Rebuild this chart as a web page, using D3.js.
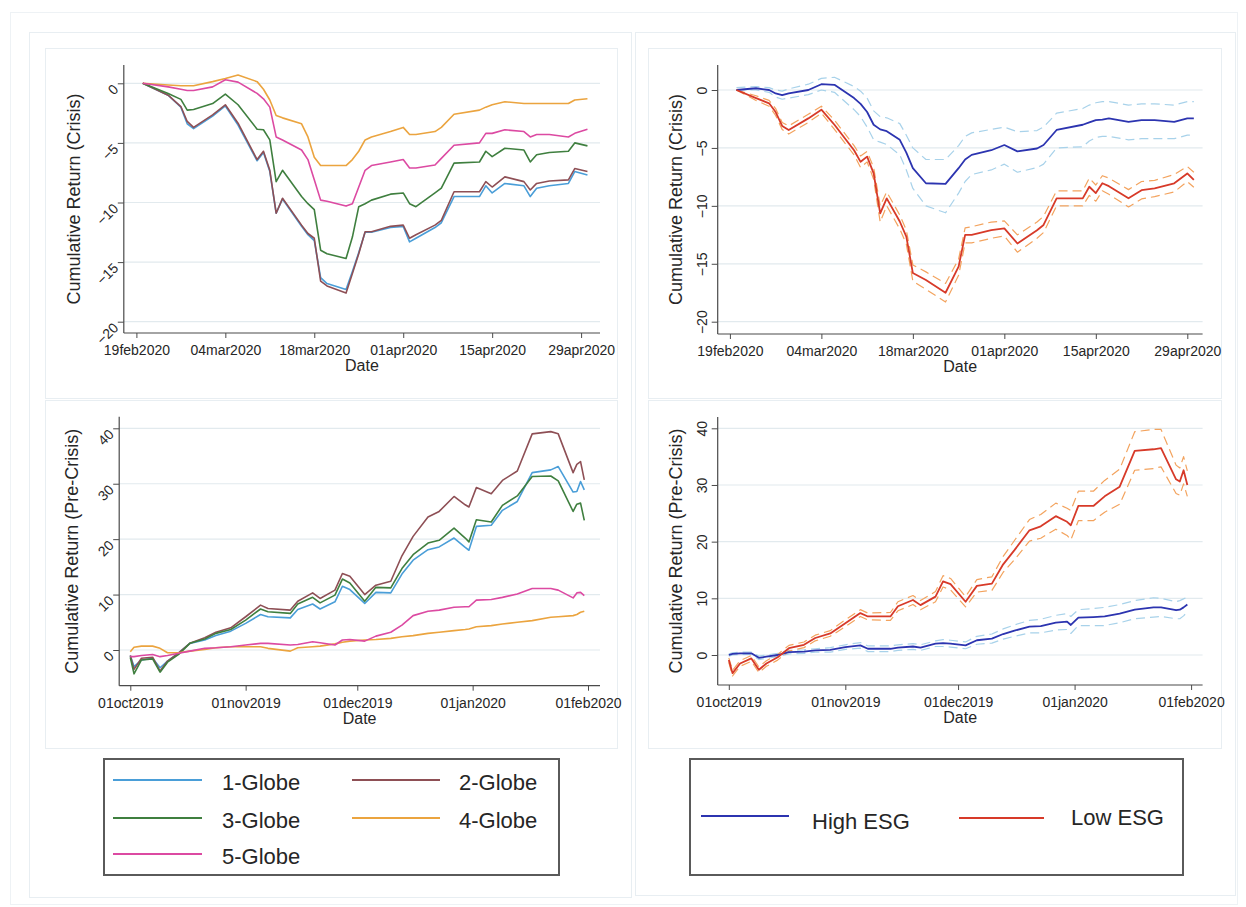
<!DOCTYPE html>
<html>
<head>
<meta charset="utf-8">
<script src="https://cdn.jsdelivr.net/npm/d3@7"></script>
<style>
  body { margin: 0; background: #ffffff; }
  svg { display: block; }
  text { font-family: "Liberation Sans", Arial, Helvetica, sans-serif; fill: #262626; }
</style>
</head>
<body>
<svg id="chart" width="1246" height="907"></svg>
<script>
// ---------- Crisis window, portfolios by Globe rating ----------
const crisisGlobeDates = ["2020-02-20","2020-02-24","2020-02-26","2020-02-27","2020-02-28","2020-03-02","2020-03-04","2020-03-06","2020-03-09","2020-03-10","2020-03-11","2020-03-12","2020-03-13","2020-03-16","2020-03-17","2020-03-18","2020-03-19","2020-03-20","2020-03-23","2020-03-24","2020-03-25","2020-03-26","2020-03-27","2020-03-30","2020-04-01","2020-04-02","2020-04-03","2020-04-06","2020-04-07","2020-04-09","2020-04-13","2020-04-14","2020-04-15","2020-04-17","2020-04-20","2020-04-21","2020-04-22","2020-04-24","2020-04-27","2020-04-28","2020-04-30"];
const globe1Crisis = [0,-1.0,-2.0,-3.4,-3.8,-2.75,-1.9,-3.5,-6.5,-5.8,-7.4,-10.9,-9.7,-12.0,-12.7,-13.2,-16.3,-16.8,-17.3,-15.8,-14.2,-12.5,-12.5,-12.1,-12.0,-13.3,-13.0,-12.1,-11.7,-9.5,-9.5,-8.6,-9.2,-8.4,-8.6,-9.5,-8.8,-8.6,-8.4,-7.4,-7.7];
const globe2Crisis = [0,-1.0,-1.95,-3.2,-3.7,-2.65,-1.8,-3.35,-6.4,-5.7,-7.3,-10.9,-9.65,-11.9,-12.6,-13.0,-16.6,-17.0,-17.6,-15.95,-14.3,-12.45,-12.45,-12.0,-11.9,-13.0,-12.7,-11.9,-11.5,-9.1,-9.1,-8.25,-8.7,-7.85,-8.25,-8.95,-8.4,-8.2,-8.1,-7.15,-7.4];
const globe3Crisis = [0,-0.85,-1.35,-2.25,-2.2,-1.7,-0.9,-1.8,-3.85,-3.9,-4.75,-8.25,-7.3,-9.5,-10.1,-10.6,-14.0,-14.3,-14.7,-12.9,-10.35,-10.1,-9.8,-9.3,-9.2,-10.1,-10.35,-9.2,-8.8,-6.7,-6.6,-5.7,-6.15,-5.45,-5.6,-6.6,-6.0,-5.8,-5.7,-5.0,-5.25];
const globe4Crisis = [0,-0.14,-0.2,-0.2,-0.2,0.14,0.4,0.7,0.14,-0.5,-1.4,-2.7,-2.9,-3.4,-4.5,-6.2,-6.9,-6.9,-6.9,-6.4,-5.7,-4.75,-4.5,-4.05,-3.7,-4.3,-4.3,-4.05,-3.7,-2.6,-2.25,-2.0,-1.8,-1.55,-1.7,-1.7,-1.7,-1.7,-1.7,-1.4,-1.3];
const globe5Crisis = [0,-0.3,-0.5,-0.6,-0.6,-0.3,0.3,0.1,-0.85,-1.3,-2.0,-4.5,-4.75,-5.6,-6.4,-8.1,-9.8,-9.9,-10.3,-10.1,-8.7,-7.3,-6.9,-6.6,-6.4,-7.1,-7.1,-6.85,-6.3,-5.2,-5.0,-4.2,-4.2,-3.9,-4.05,-4.5,-4.3,-4.3,-4.5,-4.2,-3.85];

// ---------- Crisis window, High vs Low ESG with confidence bounds ----------
const crisisEsgDates = ["2020-02-20","2020-02-23","2020-02-25","2020-02-26","2020-02-27","2020-02-28","2020-03-02","2020-03-04","2020-03-06","2020-03-09","2020-03-10","2020-03-11","2020-03-12","2020-03-13","2020-03-14","2020-03-16","2020-03-17","2020-03-18","2020-03-20","2020-03-23","2020-03-25","2020-03-26","2020-03-27","2020-03-30","2020-04-01","2020-04-03","2020-04-06","2020-04-07","2020-04-09","2020-04-13","2020-04-14","2020-04-15","2020-04-16","2020-04-17","2020-04-20","2020-04-22","2020-04-24","2020-04-27","2020-04-29","2020-04-30"];
const highEsgCrisis = [0,0.15,0.0,-0.3,-0.45,-0.3,0.0,0.5,0.45,-0.7,-1.2,-1.9,-3.0,-3.4,-3.55,-4.3,-5.4,-6.75,-8.05,-8.1,-6.75,-6.0,-5.6,-5.2,-4.75,-5.3,-5.05,-4.75,-3.45,-3.0,-2.8,-2.6,-2.55,-2.45,-2.75,-2.6,-2.6,-2.75,-2.45,-2.45];
const highEsgCrisisUpper = [0.2,0.3,0.2,0.0,-0.1,0.1,0.5,1.0,1.1,0.3,-0.1,-0.7,-1.8,-2.3,-2.4,-2.9,-3.9,-5.0,-6.0,-6.0,-4.8,-4.0,-3.7,-3.4,-3.2,-3.6,-3.5,-3.2,-2.0,-1.6,-1.3,-1.1,-1.0,-1.0,-1.3,-1.2,-1.2,-1.3,-1.0,-1.0];
const highEsgCrisisLower = [0.0,0.0,-0.2,-0.6,-0.8,-0.7,-0.4,0.0,-0.2,-1.7,-2.3,-3.2,-4.3,-4.5,-4.7,-5.6,-6.9,-8.5,-10.0,-10.6,-8.9,-7.9,-7.3,-6.9,-6.4,-7.1,-6.7,-6.4,-5.0,-4.9,-4.4,-4.1,-4.0,-4.0,-4.3,-4.2,-4.2,-4.2,-3.9,-3.9];
const lowEsgCrisis = [0,-0.7,-1.15,-1.9,-3.1,-3.45,-2.45,-1.7,-3.0,-5.2,-6.2,-5.75,-7.2,-10.65,-9.35,-11.35,-12.65,-15.8,-16.4,-17.5,-15.25,-12.5,-12.5,-12.1,-11.95,-13.25,-12.1,-11.65,-9.35,-9.35,-8.35,-8.9,-8.05,-8.3,-9.35,-8.65,-8.5,-8.05,-7.2,-7.75];
const lowEsgCrisisUpper = [0,-0.5,-0.9,-1.6,-2.8,-3.1,-2.1,-1.4,-2.6,-4.8,-5.7,-5.3,-6.7,-10.0,-8.8,-10.8,-12.1,-15.1,-15.7,-16.7,-14.6,-11.9,-11.8,-11.4,-11.3,-12.5,-11.4,-10.9,-8.7,-8.7,-7.6,-8.2,-7.4,-7.6,-8.6,-7.9,-7.8,-7.3,-6.6,-7.1];
const lowEsgCrisisLower = [0,-0.9,-1.4,-2.2,-3.4,-3.8,-2.8,-2.0,-3.4,-5.6,-6.7,-6.2,-7.7,-11.4,-10.0,-12.0,-13.3,-16.5,-17.2,-18.3,-16.0,-13.2,-13.2,-12.8,-12.6,-14.0,-12.8,-12.3,-10.0,-10.0,-9.1,-9.6,-8.7,-9.0,-10.1,-9.4,-9.2,-8.8,-7.9,-8.4];

// ---------- Pre-crisis window (shared dates for both lower panels) ----------
const preDates = ["2019-10-01","2019-10-02","2019-10-04","2019-10-07","2019-10-09","2019-10-11","2019-10-14","2019-10-17","2019-10-21","2019-10-24","2019-10-28","2019-11-01","2019-11-05","2019-11-07","2019-11-13","2019-11-15","2019-11-19","2019-11-21","2019-11-25","2019-11-27","2019-11-29","2019-12-03","2019-12-06","2019-12-10","2019-12-13","2019-12-16","2019-12-20","2019-12-23","2019-12-27","2019-12-30","2019-12-31","2020-01-02","2020-01-06","2020-01-09","2020-01-13","2020-01-17","2020-01-22","2020-01-24","2020-01-28","2020-01-29","2020-01-30","2020-01-31"];
const globe1Pre = [-1.0,-3.0,-1.8,-1.5,-3.2,-2.0,-0.5,1.2,1.8,2.6,3.4,4.8,6.4,6.0,5.8,7.3,8.3,7.4,8.7,11.5,10.9,8.4,10.4,10.3,13.7,16.2,18.1,18.6,20.2,18.5,18.0,22.3,22.5,25.2,26.8,32.0,32.5,33.1,28.5,28.6,30.4,28.9];
const globe2Pre = [-1.0,-3.5,-1.5,-1.3,-3.8,-2.0,-0.5,1.2,2.2,3.2,4.0,6.0,8.1,7.5,7.2,8.8,10.3,9.3,10.8,13.8,13.3,10.0,11.7,12.4,17.0,20.5,24.0,25.0,27.7,26.2,25.8,29.3,28.2,30.6,32.3,39.0,39.4,39.0,32.0,33.5,34.0,30.7];
const globe3Pre = [-1.3,-4.3,-1.8,-1.6,-4.0,-2.2,-0.8,1.2,2.0,3.0,3.7,5.4,7.4,6.9,6.6,8.3,9.5,8.5,9.9,12.8,12.1,8.8,11.3,11.2,14.7,17.2,19.3,19.8,22.0,20.2,19.5,23.5,23.1,26.1,27.8,31.3,31.4,30.5,25.0,26.3,26.5,23.4];
const globe4Pre = [-0.3,0.5,0.7,0.7,0.3,-0.5,-0.5,-0.2,0.1,0.4,0.6,0.6,0.6,0.3,-0.2,0.4,0.6,0.7,1.1,1.4,1.6,1.8,1.9,2.1,2.4,2.6,3.0,3.2,3.5,3.7,3.8,4.2,4.4,4.7,5.0,5.3,5.9,6.0,6.2,6.4,6.8,7.0];
const globe5Pre = [-1.2,-1.2,-1.0,-0.8,-1.2,-1.0,-0.6,-0.2,0.3,0.4,0.6,0.9,1.2,1.2,0.9,1.0,1.5,1.3,0.9,1.8,1.9,1.6,2.5,3.2,4.5,6.2,7.0,7.2,7.7,7.8,7.8,9.0,9.1,9.5,10.1,11.1,11.1,10.8,9.4,10.3,10.4,9.8];
const highEsgPre = [0.0,0.2,0.3,0.3,-0.5,-0.3,0.0,0.5,0.6,0.8,0.9,1.4,1.7,1.1,1.1,1.3,1.5,1.3,2.0,2.1,2.0,1.7,2.6,2.9,3.7,4.3,5.0,5.1,5.7,5.9,5.3,6.6,6.7,6.8,7.3,8.0,8.4,8.4,7.9,8.0,8.4,8.9];
const highEsgPreUpper = [0.2,0.4,0.5,0.5,-0.2,0.0,0.3,0.8,0.9,1.1,1.3,1.8,2.2,1.6,1.6,1.8,2.0,1.8,2.5,2.7,2.6,2.3,3.3,3.7,4.6,5.3,6.1,6.3,7.0,7.3,6.8,8.0,8.2,8.4,8.9,9.6,10.1,10.0,9.4,9.6,9.9,10.2];
const highEsgPreLower = [-0.2,0.0,0.1,0.1,-0.8,-0.6,-0.3,0.2,0.3,0.5,0.5,1.0,1.2,0.6,0.6,0.8,1.0,0.8,1.5,1.5,1.4,1.1,1.9,2.1,2.8,3.3,3.9,3.9,4.4,4.5,3.8,5.2,5.2,5.2,5.7,6.4,6.7,6.8,6.4,6.4,6.9,7.6];
const lowEsgPre = [-0.9,-3.2,-1.5,-0.6,-2.6,-1.5,-0.4,1.2,1.8,3.0,3.8,5.6,7.4,6.8,6.8,8.6,9.7,8.8,10.3,13.0,12.5,9.4,12.2,12.6,16.0,18.5,22.0,22.7,24.5,23.5,22.9,26.3,26.3,28.0,29.7,36.0,36.3,36.5,31.0,30.6,32.6,30.0];
const lowEsgPreUpper = [-0.5,-2.7,-1.0,-0.1,-2.1,-1.0,0.1,1.7,2.3,3.5,4.3,6.2,8.0,7.4,7.5,9.4,10.5,9.6,11.2,14.0,13.5,10.3,13.3,13.8,17.4,20.2,23.9,24.8,26.8,25.9,25.5,28.9,28.9,30.8,32.8,39.4,39.8,39.8,33.5,33.0,35.0,32.5];
const lowEsgPreLower = [-1.3,-3.7,-2.0,-1.1,-3.1,-2.0,-0.9,0.7,1.3,2.5,3.3,5.0,6.8,6.2,6.1,7.8,8.9,8.0,9.4,12.0,11.5,8.5,11.1,11.4,14.6,16.8,20.1,20.6,22.2,21.1,20.3,23.7,23.7,25.2,26.6,32.6,32.9,33.2,28.5,28.2,30.2,28.0];

// ---------- Axis ticks and labels ----------
const crisisTicks = ["2020-02-19","2020-03-04","2020-03-18","2020-04-01","2020-04-15","2020-04-29"];
const preTicks = ["2019-10-01","2019-11-01","2019-12-01","2020-01-01","2020-02-01"];
const crisisYTicks = [0, -5, -10, -15, -20];
const preYTicks = [0, 10, 20, 30, 40];
const globeNames = ["1-Globe", "2-Globe", "3-Globe", "4-Globe", "5-Globe"];
const esgNames = ["High ESG", "Low ESG"];

// ---------- Drawing ----------
const svg = d3.select("#chart");
const parse = d3.timeParse("%Y-%m-%d");
const fmtTick = d => d3.timeFormat("%d%b%Y")(d).toLowerCase();

const C = {
  g1: "#4a9ed8", g2: "#8e4f55", g3: "#3f7f3f", g4: "#eba43f", g5: "#dc4aa2",
  high: "#2c34b0", low: "#d73a29", highCI: "#a8d2ea", lowCI: "#f3a35e",
  frame: "#e8eef2", grid: "#e2eaee", axis: "#4a4a4a"
};

// outer frames
function box(x0, y0, x1, y1, stroke, sw) {
  svg.append("rect").attr("x", x0).attr("y", y0).attr("width", x1 - x0).attr("height", y1 - y0)
    .attr("fill", "none").attr("stroke", stroke).attr("stroke-width", sw || 1);
}
box(10.5, 12.5, 1237.5, 904.5, "#eef2f5");
box(29.5, 32.5, 631.5, 897.5, C.frame);
box(635.5, 32.5, 1235.5, 895.5, C.frame);
box(45.5, 48.5, 617.5, 398.5, C.frame);
box(648.5, 48.5, 1221.5, 398.5, C.frame);
box(45.5, 400.5, 617.5, 748.5, C.frame);
box(648.5, 400.5, 1221.5, 748.5, C.frame);

function panel(p) {
  const tickDates = p.xTicks.map(parse);
  const x = d3.scaleTime().domain([tickDates[0], tickDates[tickDates.length - 1]]).range([p.xt0, p.xt1]);
  const y = d3.scaleLinear().domain([p.yv0, p.yv1]).range([p.yp0, p.yp1]);
  const g = svg.append("g");

  g.selectAll("line.grid").data(p.yTicks).join("line")
    .attr("class", "grid")
    .attr("x1", p.ax).attr("x2", p.right)
    .attr("y1", d => y(d)).attr("y2", d => y(d))
    .attr("stroke", C.grid).attr("stroke-width", 1.2);

  const dates = p.dates.map(parse);
  p.series.forEach(s => {
    const line = d3.line().x((d, i) => x(dates[i])).y(d => y(d));
    g.append("path").datum(s.values)
      .attr("d", line)
      .attr("fill", "none")
      .attr("stroke", s.color)
      .attr("stroke-width", s.width || 1.6)
      .attr("stroke-dasharray", s.dash || null)
      .attr("stroke-linejoin", "round");
  });

  // x axis
  const xa = d3.axisBottom(x).tickValues(tickDates).tickFormat(fmtTick).tickSize(5).tickPadding(7);
  const gx = g.append("g").attr("transform", `translate(0,${p.ay})`).call(xa);
  gx.select(".domain").remove();
  gx.selectAll(".tick line").attr("stroke", C.axis);
  gx.selectAll(".tick text").attr("font-size", 14).attr("fill", "#2a2a2a")
    .style("font-family", '"Liberation Sans", Arial, sans-serif');
  g.append("line").attr("x1", p.ax).attr("x2", p.right).attr("y1", p.ay).attr("y2", p.ay)
    .attr("stroke", C.axis).attr("stroke-width", 1.2);

  // y axis
  const ya = d3.axisLeft(y).tickValues(p.yTicks).tickFormat(d3.format("d")).tickSize(6);
  const gy = g.append("g").attr("transform", `translate(${p.ax},0)`).call(ya);
  gy.select(".domain").remove();
  gy.selectAll(".tick line").attr("stroke", C.axis);
  const yt = gy.selectAll(".tick text").attr("font-size", 14).attr("fill", "#2a2a2a")
    .style("font-family", '"Liberation Sans", Arial, sans-serif')
    .attr("x", 0).attr("dy", "0.35em");
  if (p.yLabelAngle === -90) {
    yt.attr("text-anchor", "middle").attr("dy", 0)
      .attr("transform", "translate(-11,0) rotate(-90)");
  } else {
    yt.attr("text-anchor", "end")
      .attr("transform", "translate(-8,3) rotate(-45)");
  }
  g.append("line").attr("x1", p.ax).attr("x2", p.ax).attr("y1", p.top).attr("y2", p.ay)
    .attr("stroke", C.axis).attr("stroke-width", 1.2);

  // titles
  g.append("text").attr("transform", `translate(${p.titleX},${(p.top + p.ay) / 2}) rotate(-90)`)
    .attr("text-anchor", "middle").attr("dy", "0.35em").attr("font-size", 18).text(p.yTitle);
  g.append("text").attr("x", (p.ax + p.right) / 2).attr("y", p.ay + 38)
    .attr("text-anchor", "middle").attr("font-size", 16).text("Date");
}

const globeCrisisSeries = [
  { values: globe1Crisis, color: C.g1 },
  { values: globe2Crisis, color: C.g2 },
  { values: globe3Crisis, color: C.g3 },
  { values: globe4Crisis, color: C.g4 },
  { values: globe5Crisis, color: C.g5 }
];
const globePreSeries = [
  { values: globe1Pre, color: C.g1 },
  { values: globe2Pre, color: C.g2 },
  { values: globe3Pre, color: C.g3 },
  { values: globe4Pre, color: C.g4 },
  { values: globe5Pre, color: C.g5 }
];
const ciDash = "9,5";
const esgCrisisSeries = [
  { values: highEsgCrisisUpper, color: C.highCI, dash: ciDash, width: 1.2 },
  { values: highEsgCrisisLower, color: C.highCI, dash: ciDash, width: 1.2 },
  { values: lowEsgCrisisUpper, color: C.lowCI, dash: ciDash, width: 1.2 },
  { values: lowEsgCrisisLower, color: C.lowCI, dash: ciDash, width: 1.2 },
  { values: highEsgCrisis, color: C.high, width: 1.8 },
  { values: lowEsgCrisis, color: C.low, width: 1.8 }
];
const esgPreSeries = [
  { values: highEsgPreUpper, color: C.highCI, dash: ciDash, width: 1.2 },
  { values: highEsgPreLower, color: C.highCI, dash: ciDash, width: 1.2 },
  { values: lowEsgPreUpper, color: C.lowCI, dash: ciDash, width: 1.2 },
  { values: lowEsgPreLower, color: C.lowCI, dash: ciDash, width: 1.2 },
  { values: highEsgPre, color: C.high, width: 1.8 },
  { values: lowEsgPre, color: C.low, width: 1.8 }
];

// top-left: crisis, Globe ratings
panel({ dates: crisisGlobeDates, series: globeCrisisSeries, xTicks: crisisTicks, yTicks: crisisYTicks,
  xt0: 136.4, xt1: 581.1, yv0: 0, yv1: -20, yp0: 83.3, yp1: 321.7,
  ax: 123.8, ay: 333, right: 600, top: 65, titleX: 74, yLabelAngle: -45,
  yTitle: "Cumulative Return (Crisis)" });
// top-right: crisis, ESG
panel({ dates: crisisEsgDates, series: esgCrisisSeries, xTicks: crisisTicks, yTicks: crisisYTicks,
  xt0: 729.9, xt1: 1187.3, yv0: 0, yv1: -20, yp0: 90, yp1: 321.7,
  ax: 717.7, ay: 334, right: 1202.6, top: 65, titleX: 676, yLabelAngle: -90,
  yTitle: "Cumulative Return (Crisis)" });
// bottom-left: pre-crisis, Globe ratings
panel({ dates: preDates, series: globePreSeries, xTicks: preTicks, yTicks: preYTicks,
  xt0: 130.3, xt1: 588, yv0: 0, yv1: 40, yp0: 650, yp1: 428.3,
  ax: 119.2, ay: 685.7, right: 600, top: 416.7, titleX: 72, yLabelAngle: -45,
  yTitle: "Cumulative Return (Pre-Crisis)" });
// bottom-right: pre-crisis, ESG
panel({ dates: preDates, series: esgPreSeries, xTicks: preTicks, yTicks: preYTicks,
  xt0: 728.8, xt1: 1191.1, yv0: 0, yv1: 40, yp0: 655, yp1: 428.3,
  ax: 717.7, ay: 685, right: 1202.6, top: 417, titleX: 676, yLabelAngle: -90,
  yTitle: "Cumulative Return (Pre-Crisis)" });

// ---------- Legends ----------
function legend(x0, y0, x1, y1, items) {
  box(x0, y0, x1, y1, "#5a5a5a", 2);
  const g = svg.append("g");
  items.forEach(it => {
    g.append("line").attr("x1", it.lx0).attr("x2", it.lx1).attr("y1", it.y).attr("y2", it.y)
      .attr("stroke", it.color).attr("stroke-width", 2);
    g.append("text").attr("x", it.tx).attr("y", it.ty).attr("dy", "0.35em")
      .attr("font-size", 22).attr("fill", "#222").text(it.name);
  });
}
const globeColors = [C.g1, C.g2, C.g3, C.g4, C.g5];
legend(104, 759, 559, 875, globeNames.map((n, i) => {
  const col = i % 2, row = Math.floor(i / 2);
  const yy = [780, 818, 854][row];
  return { name: n, color: globeColors[i], y: yy, ty: yy + 2,
    lx0: col ? 352 : 113, lx1: col ? 440 : 202, tx: col ? 459 : 222 };
}));
const esgColors = [C.high, C.low];
legend(690, 759, 1183, 875, esgNames.map((n, i) => ({
  name: n, color: esgColors[i], y: i ? 818 : 816, ty: i ? 817 : 821,
  lx0: i ? 959 : 701, lx1: i ? 1044 : 789, tx: i ? 1071 : 812
})));
</script>
</body>
</html>
